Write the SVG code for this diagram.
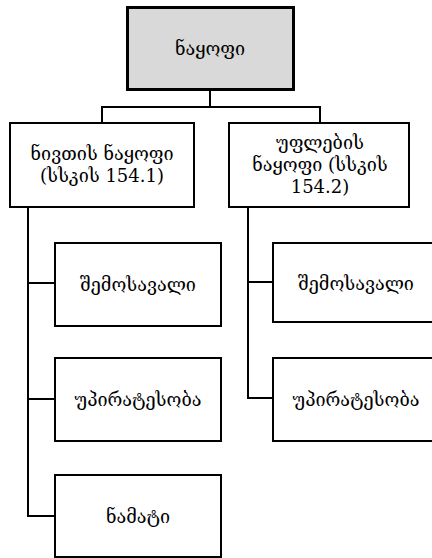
<svg xmlns="http://www.w3.org/2000/svg" width="432" height="558" viewBox="0 0 432 558">
  <style>
    .box { fill: #ffffff; stroke: #000000; stroke-width: 2; }
    .root { fill: #d9d9d9; stroke: #000000; stroke-width: 3; }
    .wire { fill: none; stroke: #000000; stroke-width: 2; }
    text { font-family: "DejaVu Serif", "DejaVu Sans", serif; font-size: 18px; fill: #000000; text-anchor: middle; dominant-baseline: central; }
  </style>
  <rect width="432" height="558" fill="#ffffff"/>

  <g id="connectors">
    <path class="wire" d="M210 90 V107 M102 123 V107 H320 V123"/>
    <path class="wire" d="M28 207 V516 H55 M28 283 H55 M28 399 H55"/>
    <path class="wire" d="M248 207 V398 H273 M248 282 H273"/>
  </g>

  <g id="root">
    <rect class="root" x="127.5" y="7.5" width="166" height="82"/>
    <text x="210" y="48">ნაყოფი</text>
  </g>

  <g id="material">
    <rect class="box" x="10" y="123" width="184" height="84"/>
    <text x="102" y="153">ნივთის ნაყოფი</text>
    <text x="102" y="175">(სსკის 154.1)</text>
  </g>

  <g id="rights">
    <rect class="box" x="229" y="123" width="180" height="84"/>
    <text x="320" y="142">უფლების</text>
    <text x="320" y="164">ნაყოფი (სსკის</text>
    <text x="320" y="186">154.2)</text>
  </g>

  <g id="material-income">
    <rect class="box" x="55" y="243" width="166" height="83"/>
    <text x="138" y="284">შემოსავალი</text>
  </g>
  <g id="material-priority">
    <rect class="box" x="55" y="358" width="166" height="83"/>
    <text x="138" y="399">უპირატესობა</text>
  </g>
  <g id="material-increment">
    <rect class="box" x="55" y="475" width="166" height="82"/>
    <text x="138" y="516">ნამატი</text>
  </g>

  <g id="rights-income">
    <rect class="box" x="273" y="243" width="168" height="79"/>
    <text x="356" y="283">შემოსავალი</text>
  </g>
  <g id="rights-priority">
    <rect class="box" x="273" y="358" width="168" height="83"/>
    <text x="356" y="399">უპირატესობა</text>
  </g>
</svg>
